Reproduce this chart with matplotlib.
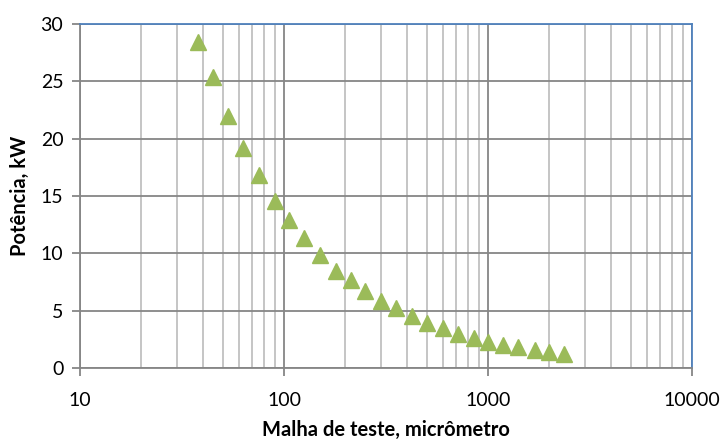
import matplotlib.pyplot as plt
from matplotlib.ticker import LogLocator, NullFormatter, FixedLocator

# Malha (micrometro) e potencia (kW)
malha = [38, 45, 53, 63, 75, 90, 106, 125, 150, 180, 212, 250, 300, 355, 425,
         500, 600, 710, 850, 1000, 1180, 1400, 1700, 2000, 2360]
potencia = [28.4, 25.4, 22.0, 19.2, 16.8, 14.6, 12.9, 11.3, 9.85, 8.5, 7.7, 6.7,
            5.85, 5.2, 4.5, 3.9, 3.45, 2.95, 2.6, 2.25, 2.0, 1.8, 1.55, 1.4, 1.2]

x_ticks = [10, 100, 1000, 10000]
y_ticks = [0, 5, 10, 15, 20, 25, 30]

plt.rcParams['font.family'] = ['Lato', 'DejaVu Sans']

fig = plt.figure(figsize=(7.21, 4.41), dpi=100)
ax = fig.add_axes([80/721, 1 - 368/441, 612/721, 344/441])

ax.set_xscale('log')
ax.set_xlim(10, 10000)
ax.set_ylim(0, 30)

# grid: major darker, minor lighter
ax.xaxis.set_major_locator(FixedLocator(x_ticks))
ax.xaxis.set_minor_locator(LogLocator(base=10, subs=range(2, 10)))
ax.xaxis.set_minor_formatter(NullFormatter())
ax.set_xticklabels([str(v) for v in x_ticks])
ax.set_yticks(y_ticks)
ax.grid(True, which='major', color='#868686', linewidth=1.3, zorder=0)
ax.grid(True, which='minor', axis='x', color='#c0c0c0', linewidth=1.3, zorder=0)
ax.set_axisbelow(True)

ax.plot(malha, potencia, linestyle='none', marker='^', markersize=12,
        color='#9bbb59', markeredgecolor='#9bbb59', zorder=3)

for s in ['left', 'bottom']:
    ax.spines[s].set_color('#868686')
    ax.spines[s].set_linewidth(1.3)
for s in ['top', 'right']:
    ax.spines[s].set_color('#4f81bd')
    ax.spines[s].set_linewidth(1.3)

ax.tick_params(axis='both', which='major', length=6, width=1.3, color='#868686',
               labelsize=14)
ax.tick_params(axis='y', which='major', pad=6)
ax.tick_params(axis='x', which='minor', length=0)
ax.tick_params(axis='x', which='major', pad=11)

ax.set_xlabel('Malha de teste, micrômetro', fontsize=14.5, fontweight='bold', labelpad=8)
ax.set_ylabel('Potência, kW', fontsize=14.5, fontweight='bold', labelpad=8)

fig.savefig('out.png', dpi=100)
